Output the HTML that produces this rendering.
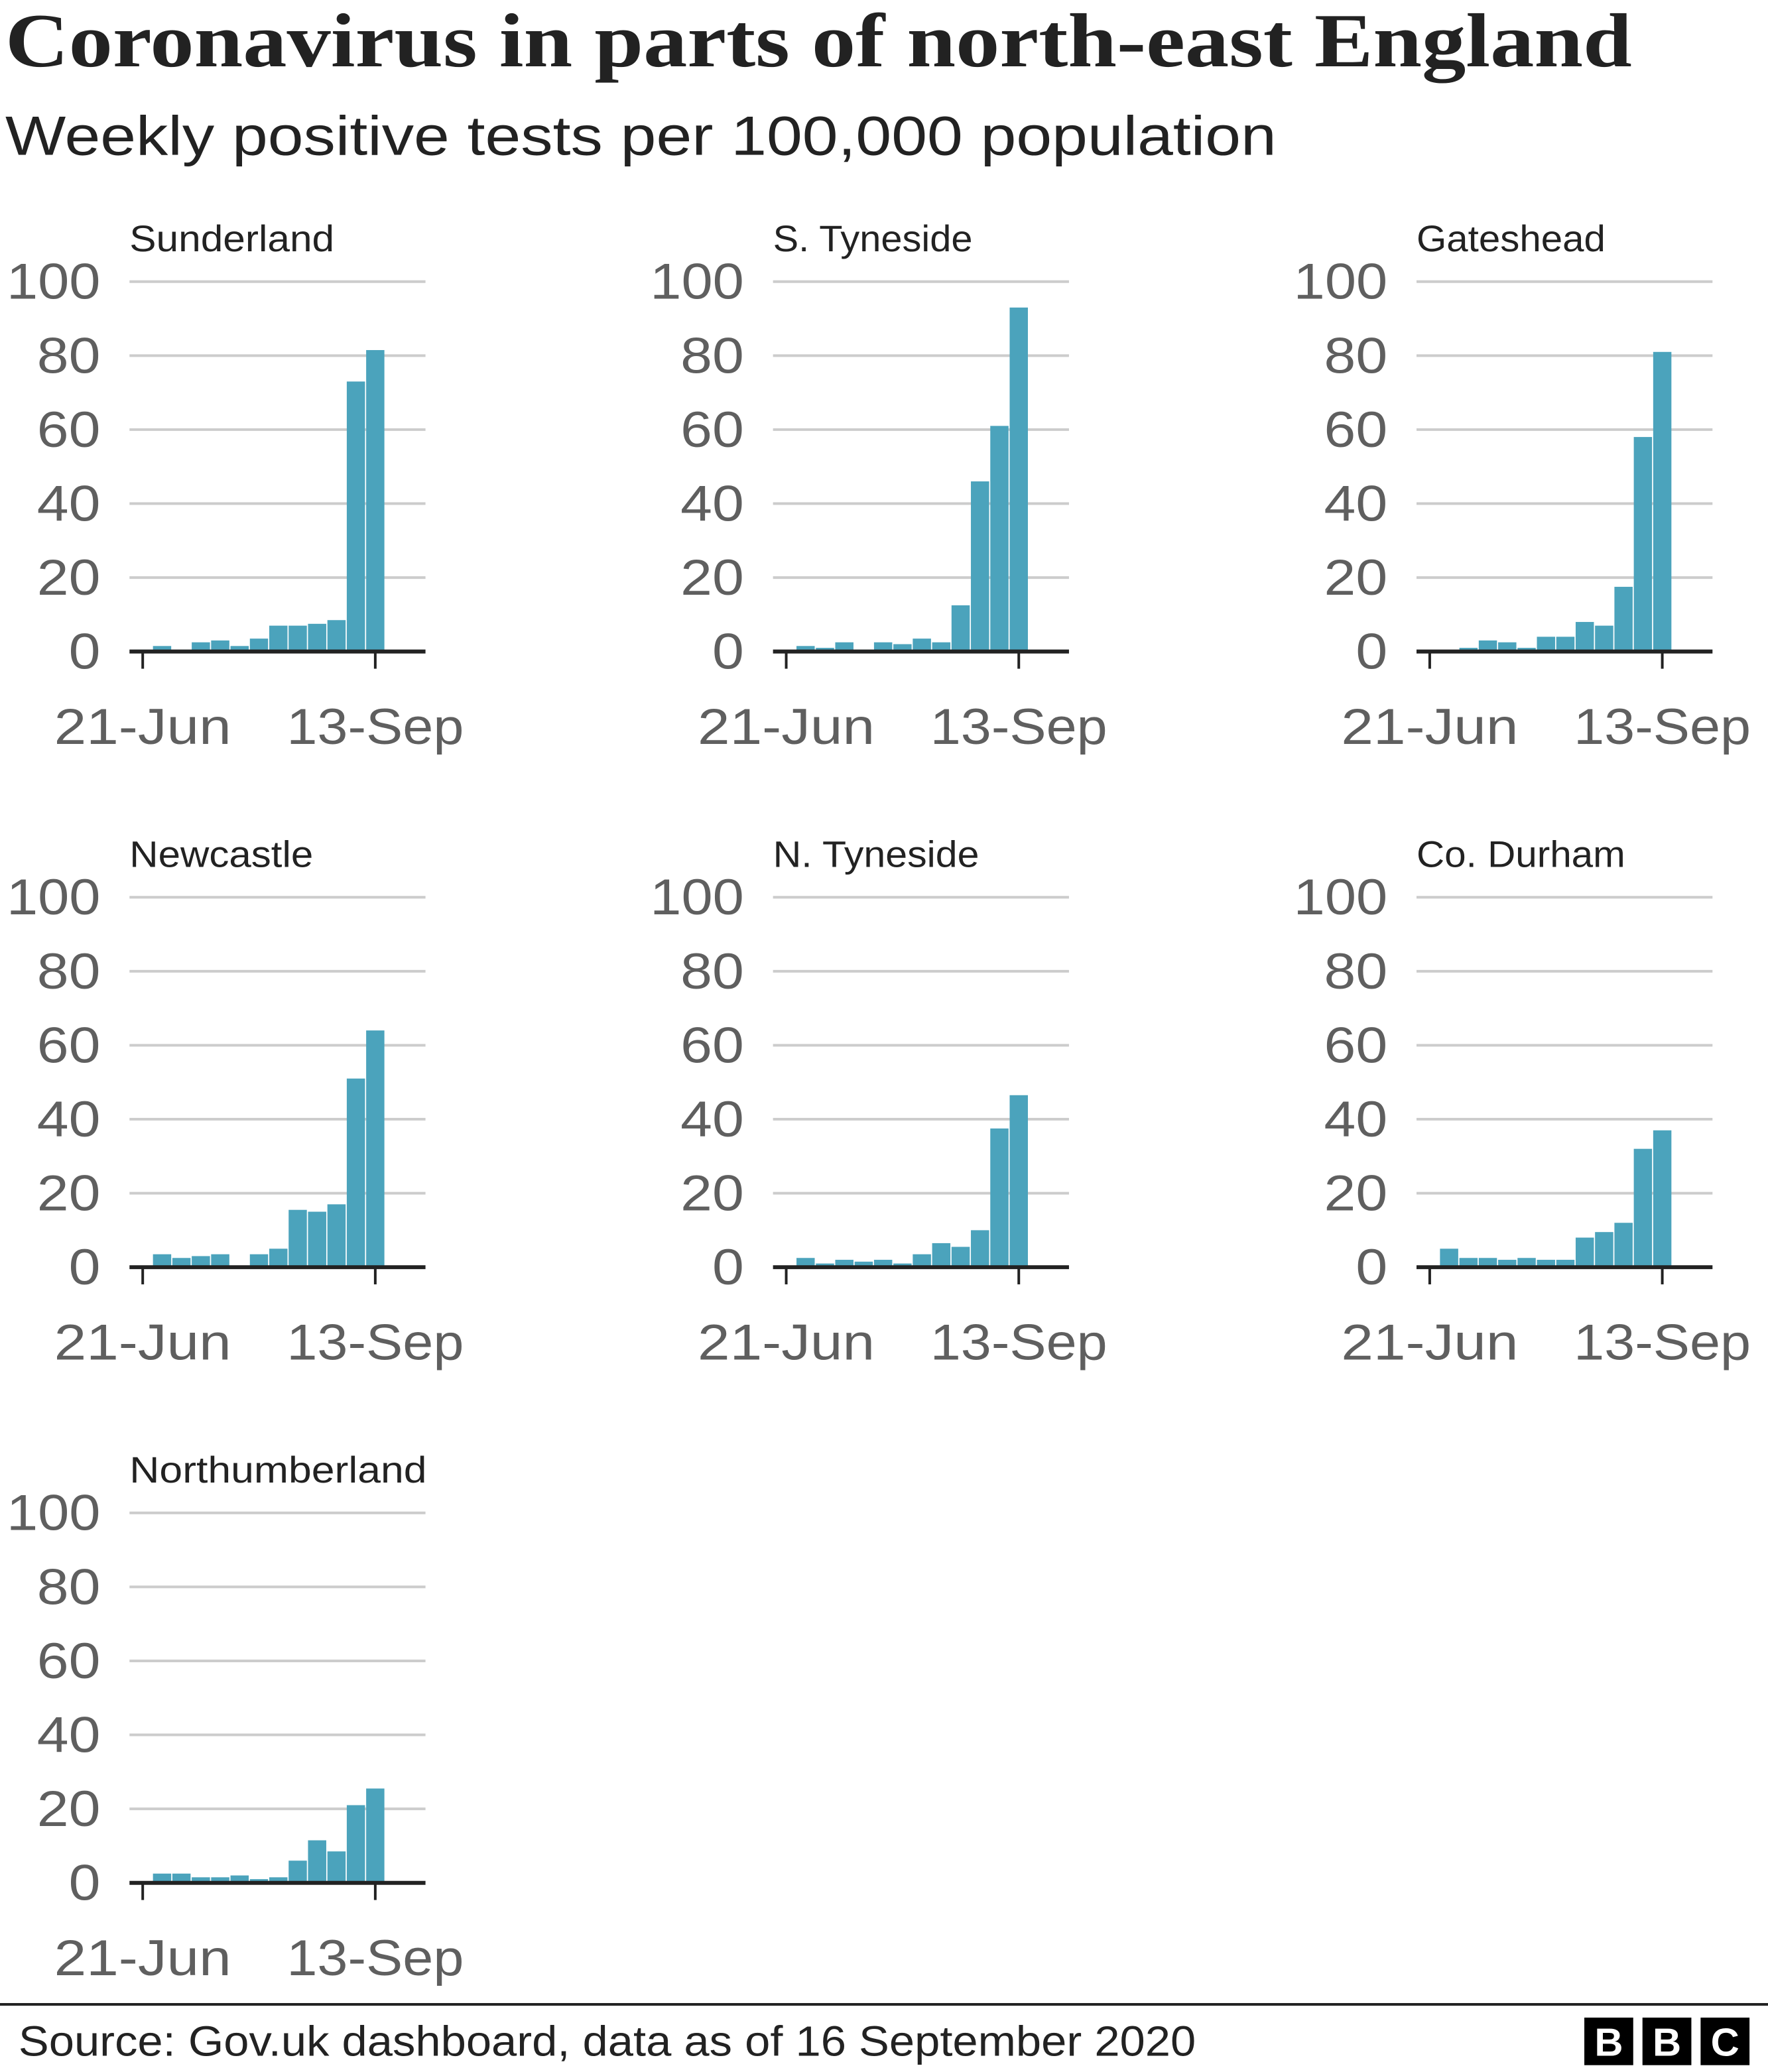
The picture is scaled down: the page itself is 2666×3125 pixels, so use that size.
<!DOCTYPE html>
<html><head><meta charset="utf-8"><style>
html,body{margin:0;padding:0;background:#fff;}
svg{display:block;}
</style></head><body>
<svg width="2666" height="3125" viewBox="0 0 1338 1568" xmlns="http://www.w3.org/2000/svg">
<rect width="1338" height="1568" fill="#fff"/>
<text x="4" y="50" font-family="Liberation Serif, serif" font-weight="bold" font-size="58" fill="#222" textLength="1231" lengthAdjust="spacingAndGlyphs">Coronavirus in parts of north-east England</text>
<text x="4" y="117" font-family="Liberation Sans, sans-serif" font-size="42" fill="#222" textLength="962" lengthAdjust="spacingAndGlyphs">Weekly positive tests per 100,000 population</text>
<g id="panels"></g>
<line x1="0" y1="1517" x2="1338" y2="1517" stroke="#222" stroke-width="2"/>
<text x="14" y="1556" font-family="Liberation Sans, sans-serif" font-size="32" fill="#222" textLength="891" lengthAdjust="spacingAndGlyphs">Source: Gov.uk dashboard, data as of 16 September 2020</text>
<g font-family="Liberation Sans, sans-serif" font-weight="bold" font-size="30" fill="#fff" text-anchor="middle">
<rect x="1199" y="1527" width="37" height="36" fill="#000"/><text x="1217.5" y="1556">B</text>
<rect x="1243" y="1527" width="37" height="36" fill="#000"/><text x="1261.5" y="1556">B</text>
<rect x="1287" y="1527" width="37" height="36" fill="#000"/><text x="1305.5" y="1556">C</text>
</g>
</svg>
<script>
const data=[
["Sunderland",155,[0.5,1.5,0.5,2.5,3,1.5,3.5,7,7,7.5,8.5,73,81.5]],
["S. Tyneside",151,[0.3,1.5,1,2.5,0.5,2.5,2,3.5,2.5,12.5,46,61,93]],
["Gateshead",143,[0.3,0.3,1,3,2.5,1,4,4,8,7,17.5,58,81]],
["Newcastle",139,[0.3,3.5,2.5,3,3.5,0,3.5,5,15.5,15,17,51,64]],
["N. Tyneside",156,[0.3,2.5,1,2,1.5,2,1,3.5,6.5,5.5,10,37.5,46.5]],
["Co. Durham",158,[0.3,5,2.5,2.5,2,2.5,2,2,8,9.5,12,32,37]],
["Northumberland",225,[0.3,2.5,2.5,1.5,1.5,2,1,1.5,6,11.5,8.5,21,25.5]]];
let s='';
const LA='lengthAdjust="spacingAndGlyphs"';
data.forEach((d,i)=>{
 const ox=(i%3)*487, oy=Math.floor(i/3)*466;
 s+=`<g transform="translate(${ox},${oy})" font-family="Liberation Sans, sans-serif">`;
 s+=`<text x="98" y="190" font-size="28" fill="#222" textLength="${d[1]}" ${LA}>${d[0]}</text>`;
 for(let k=0;k<=5;k++){const y=493-k*56;
  if(k>0)s+=`<line x1="98" y1="${y}" x2="322" y2="${y}" stroke="#ccc" stroke-width="2"/>`;
  const w=k==0?24:(k==5?71:48);
  s+=`<text x="${76-w}" y="${y+13}" font-size="38" fill="#5f5f5f" textLength="${w}" ${LA}>${k*20}</text>`;}
 d[2].forEach((v,j)=>{const cx=108+j*176/12,h=v*2.8;
  if(h>0)s+=`<rect x="${cx-6.9}" y="${493-h}" width="13.8" height="${h}" fill="#4ba3bc"/>`;});
 s+=`<line x1="98" y1="493" x2="322" y2="493" stroke="#222" stroke-width="3"/>`;
 s+=`<line x1="108" y1="493" x2="108" y2="506" stroke="#222" stroke-width="2"/><line x1="284" y1="493" x2="284" y2="506" stroke="#222" stroke-width="2"/>`;
 s+=`<text x="41" y="563" font-size="38" fill="#5f5f5f" textLength="134" ${LA}>21-Jun</text><text x="217" y="563" font-size="38" fill="#5f5f5f" textLength="134" ${LA}>13-Sep</text>`;
 s+=`</g>`;});
document.getElementById('panels').innerHTML=s;
</script>
</body></html>
